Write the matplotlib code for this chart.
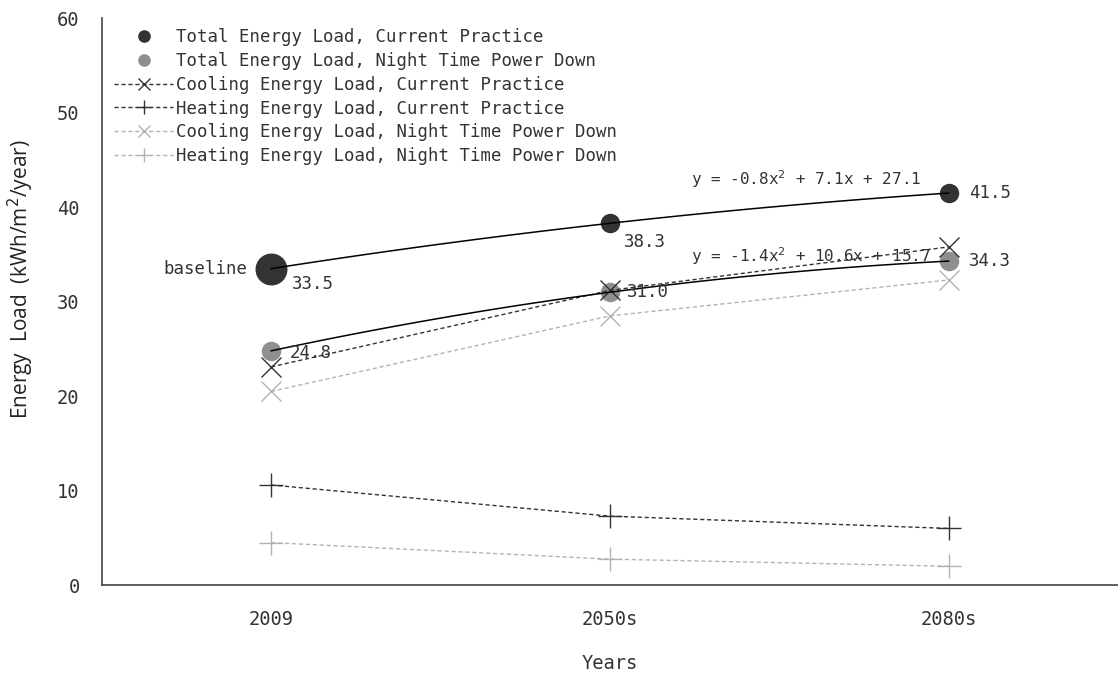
import numpy as np
import matplotlib.pyplot as plt

# data
periods = ['2009', '2050s', '2080s']
total_cp = [33.5, 38.3, 41.5]
total_nt = [24.8, 31.0, 34.3]
cool_cp = [23.1, 31.2, 35.8]
heat_cp = [10.6, 7.3, 6.0]
cool_nt = [20.5, 28.5, 32.3]
heat_nt = [4.5, 2.75, 2.0]

mono = 'DejaVu Sans Mono'
plt.rcParams['font.family'] = mono
dark = '#333333'
mid = '#8f8f8f'
light = '#b3b3b3'
dash = (0, (3, 2))

fig = plt.figure(figsize=(11.18, 6.78), dpi=100)
ax = fig.add_axes([0.091, 0.137, 0.909, 0.836])
x = np.arange(len(periods))

# totals as markers, with quadratic trendlines
ax.plot(x, total_cp, 'o', color=dark, ms=13, label='Total Energy Load, Current Practice')
ax.plot(x[:1], total_cp[:1], 'o', color=dark, ms=22)
ax.plot(x, total_nt, 'o', color=mid, ms=13, label='Total Energy Load, Night Time Power Down')
ax.plot(x, cool_cp, linestyle=dash, lw=1, color=dark, marker='x', ms=15, mew=1,
        label='Cooling Energy Load, Current Practice')
ax.plot(x, heat_cp, linestyle=dash, lw=1, color=dark, marker='+', ms=17, mew=1,
        label='Heating Energy Load, Current Practice')
ax.plot(x, cool_nt, linestyle=dash, lw=1, color=light, marker='x', ms=15, mew=1,
        label='Cooling Energy Load, Night Time Power Down')
ax.plot(x, heat_nt, linestyle=dash, lw=1, color=light, marker='+', ms=17, mew=1,
        label='Heating Energy Load, Night Time Power Down')

xs = np.linspace(0, 2, 100)
for vals in (total_cp, total_nt):
    c = np.polyfit(x + 1, vals, 2)
    ax.plot(xs, np.polyval(c, xs + 1), color='black', lw=1.1)

ax.text(1.24, 43.0, 'y = -0.8x$^2$ + 7.1x + 27.1', fontsize=11.5, color=dark, va='center')
ax.text(1.24, 34.8, 'y = -1.4x$^2$ + 10.6x + 15.7', fontsize=11.5, color=dark, va='center')

lbl = dict(fontsize=12.5, color=dark, va='center')
ax.text(-0.07, total_cp[0], 'baseline', ha='right', **lbl)
ax.text(0.06, total_cp[0] - 1.6, '33.5', **lbl)
ax.text(1.04, total_cp[1] - 2.0, '38.3', **lbl)
ax.text(2.06, total_cp[2], '41.5', **lbl)
ax.text(0.055, total_nt[0] - 0.2, '24.8', **lbl)
ax.text(1.05, total_nt[1], '31.0', **lbl)
ax.text(2.06, total_nt[2], '34.3', **lbl)

ax.set_xlim(-0.5, 2.5)
ax.set_ylim(0, 60)
ax.set_xticks(x)
ax.set_xticklabels(periods)
ax.set_yticks(range(0, 61, 10))
ax.tick_params(length=0, labelsize=13.5, colors=dark)
ax.tick_params(axis='y', pad=16)
ax.tick_params(axis='x', pad=18)
for s in ('top', 'right'):
    ax.spines[s].set_visible(False)
for s in ('left', 'bottom'):
    ax.spines[s].set_color('#444444')
    ax.spines[s].set_linewidth(1.2)

ax.set_xlabel('Years', fontsize=13.5, color=dark, labelpad=18)
ax.set_ylabel('Energy  Load  (kWh/m$^2$/year)', fontsize=15, color='#222222',
              family='Open Sans')
ax.yaxis.set_label_coords(-0.065, 0.54)

leg = ax.legend(loc='upper left', bbox_to_anchor=(0.003, 1.0), frameon=False, fontsize=12.5,
                handlelength=3.4, handletextpad=0.15, labelspacing=0.34, borderaxespad=0.15,
                markerscale=0.62)
for t in leg.get_texts():
    t.set_color(dark)

fig.savefig('out.png', dpi=100)
